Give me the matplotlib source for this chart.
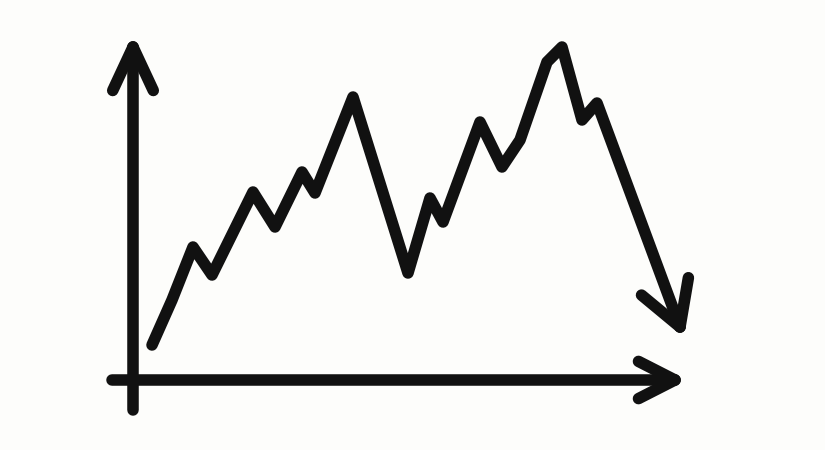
import matplotlib
matplotlib.use("Agg")
import matplotlib.pyplot as plt
import numpy as np

# hand drawn zigzag, units measured from the axis origin
x_vals = [20, 40, 61, 80, 121, 143, 170, 183, 221, 276, 298, 311, 348, 370, 388, 415, 430, 450, 465, 548]
y_vals = [35, 80, 133, 105, 188, 153, 208, 187, 283, 107, 182, 158, 258, 213, 240, 318, 333, 260, 277, 53]

# axis extents
x_axis = [-20, 543]
y_axis = [-30, 333]

ink = "#111111"
lw = 8.3


def arrow_head(ax, p_from, p_to, length, angle_deg):
    # two strokes going back from the tip
    p_from = np.array(p_from, float)
    p_to = np.array(p_to, float)
    d = p_from - p_to
    d = d / np.hypot(*d)
    for a in (angle_deg, -angle_deg):
        t = np.radians(a)
        r = np.array([[np.cos(t), -np.sin(t)], [np.sin(t), np.cos(t)]])
        w = p_to + length * (r @ d)
        ax.plot([w[0], p_to[0]], [w[1], p_to[1]], color=ink, lw=lw,
                solid_capstyle="round", solid_joinstyle="round")


fig = plt.figure(figsize=(8.25, 4.5), dpi=100)
fig.patch.set_facecolor("#fdfdfb")
ax = fig.add_axes([0, 0, 1, 1])
ax.set_facecolor("#fdfdfb")
ax.set_xlim(-132, 693)
ax.set_ylim(-70, 380)
ax.axis("off")

# axes
ax.plot([1, 1], y_axis, color=ink, lw=lw, solid_capstyle="round")
arrow_head(ax, (1, 0), (1, y_axis[1]), 48, 25)
ax.plot(x_axis, [0, 0], color=ink, lw=lw, solid_capstyle="round")
arrow_head(ax, (0, 0), (x_axis[1], 0), 41, 27)

# the line
ax.plot(x_vals, y_vals, color=ink, lw=lw, solid_capstyle="round", solid_joinstyle="round")
arrow_head(ax, (x_vals[-2], y_vals[-2]), (x_vals[-1], y_vals[-1]), 50, 30)

fig.savefig("out.png", dpi=100, facecolor=fig.get_facecolor())
